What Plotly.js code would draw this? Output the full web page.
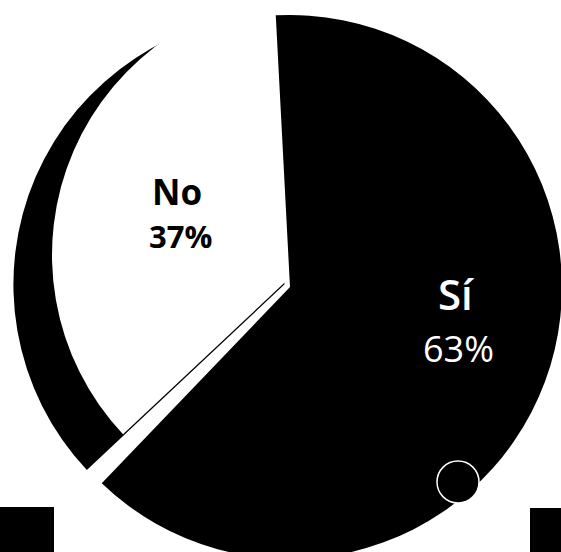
<!DOCTYPE html>
<html>
<head>
<meta charset="utf-8">
<script src="https://cdn.plot.ly/plotly-3.0.1.min.js"></script>
<style>
html,body{margin:0;padding:0;width:561px;height:552px;overflow:hidden;background:#fff;}
#chart{position:absolute;left:0;top:-20px;width:600px;height:660px;}
</style>
</head>
<body>
<div id="chart"></div>
<script>
// ---- data ----
const labels = ['Sí', 'No'];
const values = [63, 37];

// ---- geometry helpers (frame is 600 x 660, shifted up 20px) ----
const W = 600, H = 660, OFF = 20;
function px(X){ return X / W; }
function py(Y){ return (H - (Y + OFF)) / H; }
function dom(cx, cy, r){
  return {x:[px(cx - r), px(cx + r)], y:[py(cy + r), py(cy - r)]};
}
const total = values.reduce((a,b)=>a+b,0);
const pct = values.map(v => Math.round(v / total * 100) + '%');

const common = {
  type:'pie', labels: labels, values: values, sort:false,
  direction:'clockwise', textinfo:'none', hoverinfo:'none',
  showlegend:false
};

const traces = [
  // shadow of the "No" slice
  Object.assign({}, common, {
    domain: dom(284.4, 284.5, 271), rotation: 0,
    marker:{colors:['rgba(0,0,0,0)', '#000'], line:{width:0}}
  }),
  // white "No" slice
  Object.assign({}, common, {
    domain: dom(314, 255, 262), rotation: 0,
    marker:{colors:['rgba(0,0,0,0)', '#ffffff'], line:{width:0}}
  }),
  // black "Sí" slice
  Object.assign({}, common, {
    domain: dom(290, 287, 272), rotation: -3,
    marker:{colors:['#000', 'rgba(0,0,0,0)'], line:{width:0}}
  })
];

const ann = [
  {text:labels[1], X:177, Y:192, size:35, color:'#000', weight:700},
  {text:pct[1], X:180, Y:236, size:31, color:'#000', weight:700},
  {text:labels[0], X:456, Y:293, size:42, color:'#fff', weight:600},
  {text:pct[0], X:458, Y:348, size:36, color:'#fff', weight:400}
].map(a => ({
  text:a.text, x:px(a.X), y:py(a.Y), xref:'paper', yref:'paper',
  xanchor:'center', yanchor:'middle', showarrow:false,
  font:{family:'Open Sans, sans-serif', size:a.size, color:a.color, weight:a.weight}
}));

const shapes = [
  {type:'circle', xref:'paper', yref:'paper',
   x0:px(437), x1:px(479), y0:py(503), y1:py(461),
   fillcolor:'#000', line:{color:'#fff', width:1.5}},
  {type:'rect', xref:'paper', yref:'paper',
   x0:px(-5), x1:px(54), y0:py(570), y1:py(507),
   fillcolor:'#000', line:{width:0}},
  {type:'rect', xref:'paper', yref:'paper',
   x0:px(530), x1:px(610), y0:py(570), y1:py(508),
   fillcolor:'#000', line:{width:0}}
];

const layout = {
  width:W, height:H,
  margin:{l:0, r:0, t:0, b:0, pad:0},
  paper_bgcolor:'#fff', plot_bgcolor:'#fff',
  showlegend:false,
  annotations: ann,
  shapes: shapes
};

Plotly.newPlot('chart', traces, layout, {staticPlot:true, displayModeBar:false});
</script>
</body>
</html>
